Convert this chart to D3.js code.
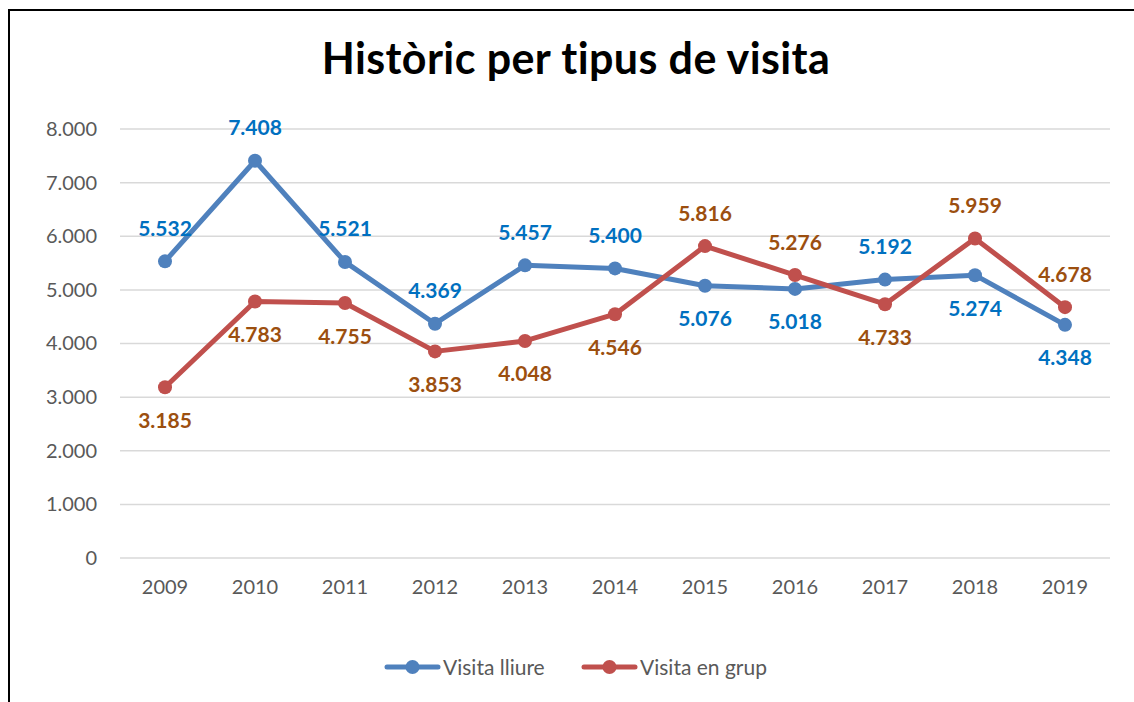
<!DOCTYPE html>
<html>
<head>
<meta charset="utf-8">
<script src="https://cdn.jsdelivr.net/npm/d3@7"></script>
<style>
  body { margin: 0; background: #fff; }
  svg { display: block; font-family: Lato, "Open Sans", sans-serif; }
</style>
</head>
<body>
<svg id="chart" width="1134" height="702"></svg>
<script>
// data
const years = ['2009', '2010', '2011', '2012', '2013', '2014', '2015', '2016', '2017', '2018', '2019'];
const visitaLliure = [5532, 7408, 5521, 4369, 5457, 5400, 5076, 5018, 5192, 5274, 4348];
const visitaGrup = [3185, 4783, 4755, 3853, 4048, 4546, 5816, 5276, 4733, 5959, 4678];
// label placement (1 = above the point, -1 = below)
const lliureSide = [1, 1, 1, 1, 1, 1, -1, -1, 1, -1, -1];
const grupSide = [-1, -1, -1, -1, -1, -1, 1, 1, -1, 1, 1];
const yTicks = [0, 1000, 2000, 3000, 4000, 5000, 6000, 7000, 8000];

const series = [
    { name: 'Visita lliure', values: visitaLliure, side: lliureSide, color: '#4F81BD', labelColor: '#0070C0' },
    { name: 'Visita en grup', values: visitaGrup, side: grupSide, color: '#C0504D', labelColor: '#9C4F0F' }
];

const svg = d3.select('#chart');
const margin = { top: 129, left: 120, right: 24, bottom: 144 };
const width = 1134 - margin.left - margin.right;
const height = 702 - margin.top - margin.bottom;

// frame of the chart area (cut off at right and bottom)
svg.append('path')
    .attr('d', 'M9,702 V10 H1134')
    .attr('fill', 'none')
    .attr('stroke', '#000')
    .attr('stroke-width', 2);

// title
svg.append('text')
    .attr('x', 576)
    .attr('y', 74)
    .attr('text-anchor', 'middle')
    .attr('font-size', 43)
    .attr('font-weight', 'bold')
    .attr('letter-spacing', 0.4)
    .attr('fill', '#000')
    .text('Històric per tipus de visita');

const chart = svg.append('g')
    .attr('transform', `translate(${margin.left},${margin.top})`);

const x = d3.scaleBand().domain(years).range([0, width]);
const y = d3.scaleLinear().domain([0, 8000]).range([height, 0]);
const fmt = d3.formatLocale({ decimal: ',', thousands: '.', grouping: [3], currency: ['', ''] }).format(',');

// gridlines
chart.append('g')
    .selectAll('line')
    .data(yTicks)
    .join('line')
    .attr('x1', 0)
    .attr('x2', width)
    .attr('y1', d => y(d))
    .attr('y2', d => y(d))
    .attr('stroke', '#D9D9D9')
    .attr('stroke-width', 1.5);

// y axis
const yAxis = chart.append('g')
    .call(d3.axisLeft(y).tickValues(yTicks).tickFormat(fmt).tickSize(0).tickPadding(23));
yAxis.select('.domain').remove();
yAxis.selectAll('text')
    .attr('font-size', 20)
    .attr('fill', '#595959')
    .attr('font-family', 'Lato, "Open Sans", sans-serif');

// x axis
const xAxis = chart.append('g')
    .attr('transform', `translate(0,${height})`)
    .call(d3.axisBottom(x).tickSize(0).tickPadding(22));
xAxis.select('.domain').remove();
xAxis.selectAll('text')
    .attr('font-size', 20)
    .attr('fill', '#595959')
    .attr('font-family', 'Lato, "Open Sans", sans-serif');

const cx = d => x(d) + x.bandwidth() / 2;

series.forEach(s => {
    const pts = years.map((yr, i) => ({ yr, v: s.values[i], side: s.side[i] }));

    chart.append('path')
        .datum(pts)
        .attr('fill', 'none')
        .attr('stroke', s.color)
        .attr('stroke-width', 5)
        .attr('stroke-linejoin', 'round')
        .attr('stroke-linecap', 'round')
        .attr('d', d3.line().x(d => cx(d.yr)).y(d => y(d.v)));

    chart.append('g')
        .selectAll('circle')
        .data(pts)
        .join('circle')
        .attr('cx', d => cx(d.yr))
        .attr('cy', d => y(d.v))
        .attr('r', 7)
        .attr('fill', s.color);
});

// data labels on top
series.forEach(s => {
    const pts = years.map((yr, i) => ({ yr, v: s.values[i], side: s.side[i] }));
    chart.append('g')
        .selectAll('text')
        .data(pts)
        .join('text')
        .attr('x', d => cx(d.yr))
        .attr('y', d => y(d.v) - d.side * 33)
        .attr('dy', '0.36em')
        .attr('text-anchor', 'middle')
        .attr('font-size', 21)
        .attr('font-weight', 'bold')
        .attr('fill', s.labelColor)
        .text(d => fmt(d.v));
});

// legend
const legend = svg.append('g').attr('transform', 'translate(385,667)');
const legendX = [0, 197];
series.forEach((s, i) => {
    const g = legend.append('g').attr('transform', `translate(${legendX[i]},0)`);
    g.append('line')
        .attr('x1', 2).attr('x2', 53)
        .attr('stroke', s.color)
        .attr('stroke-width', 5)
        .attr('stroke-linecap', 'round');
    g.append('circle')
        .attr('cx', 27.5)
        .attr('r', 7)
        .attr('fill', s.color);
    g.append('text')
        .attr('x', 58)
        .attr('dy', '0.36em')
        .attr('font-size', 21)
        .attr('fill', '#595959')
        .text(s.name);
});
</script>
</body>
</html>
